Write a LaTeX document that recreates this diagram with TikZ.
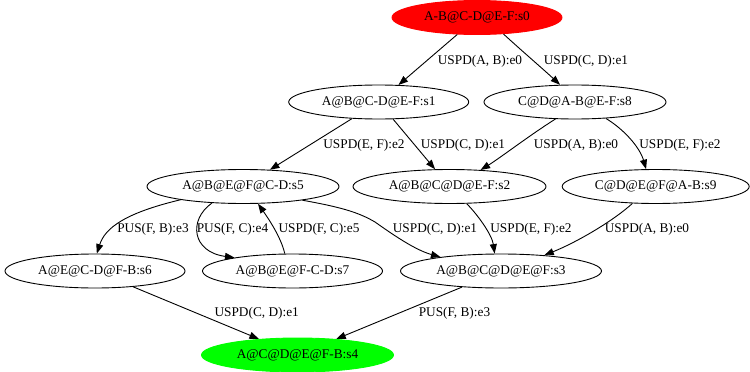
\documentclass[tikz,border=0pt]{standalone}
\usepackage{fontspec}
\setmainfont{Liberation Serif}
\usetikzlibrary{shapes.geometric,arrows.meta}
\begin{document}
\begin{tikzpicture}[x=1pt,y=-1pt,
  state/.style={ellipse,draw=black,line width=0.9pt,inner sep=0pt,
    minimum height=34pt,font=\fontsize{13.3}{15}\selectfont},
  lbl/.style={inner sep=0pt,font=\fontsize{13.3}{15}\selectfont},
  edge/.style={-{Triangle[length=9.5pt,width=7pt]},line width=0.9pt},
]
\useasboundingbox (0,0) rectangle (750,372);

% states
\node[state,minimum width=170pt,fill=red,draw=red] (s0) at (477,17.5) {A-B@C-D@E-F:s0};
\node[state,minimum width=180pt] (s1) at (378.7,102) {A@B@C-D@E-F:s1};
\node[state,minimum width=182pt] (s8) at (575,102) {C@D@A-B@E-F:s8};
\node[state,minimum width=192pt] (s5) at (243,186.5) {A@B@E@F@C-D:s5};
\node[state,minimum width=193pt] (s2) at (449.5,186.5) {A@B@C@D@E-F:s2};
\node[state,minimum width=187pt] (s9) at (655.7,186.5) {C@D@E@F@A-B:s9};
\node[state,minimum width=180pt] (s6) at (95,271) {A@E@C-D@F-B:s6};
\node[state,minimum width=180pt] (s7) at (292.5,271) {A@B@E@F-C-D:s7};
\node[state,minimum width=201pt] (s3) at (501,271) {A@B@C@D@E@F:s3};
\node[state,minimum width=192pt,fill=green,draw=green] (s4) at (297.5,355) {A@C@D@E@F-B:s4};

% transitions
\draw[edge] (s0) -- (s1);
\draw[edge] (s0.-32) .. controls (522,51) and (543,69) .. (s8.131);
\draw[edge] (s1) -- (s5);
\draw[edge] (s1) -- (s2);
\draw[edge] (s8.221) .. controls (530,135) and (500,158) .. (s2.28);
\draw[edge] (s8.-28) .. controls (625,130) and (640,148) .. (s9.119);
\draw[edge] (s5.192) .. controls (125,213) and (105,228) .. (s6.84);
\draw[edge] (s5.208) .. controls (188,220) and (192,252) .. (s7.167);
\draw[edge] (s7.114) .. controls (281,237) and (268,218) .. (s5.-49);
\draw[edge] (s5.-13) .. controls (340,207) and (358,212) .. (375,222)
  .. controls (392,234) and (415,250) .. (s3.167);
\draw[edge] (s2.-45) .. controls (478,215) and (492,235) .. (s3.110);
\draw[edge] (s9.216) .. controls (612,222) and (575,243) .. (s3.20);
\draw[edge] (s6) -- (s4);
\draw[edge] (s3) -- (s4);

% transition labels
\node[lbl] (l01) at (480,61) {USPD(A, B):e0};
\node[lbl] (l08) at (586,61) {USPD(C, D):e1};
\node[lbl] (l15) at (364,145) {USPD(E, F):e2};
\node[lbl] (l12) at (463,145) {USPD(C, D):e1};
\node[lbl] (l82) at (576,145) {USPD(A, B):e0};
\node[lbl] (l89) at (680,145) {USPD(E, F):e2};
\node[lbl] (l56) at (153,229) {PUS(F, B):e3};
\node[lbl] (l57) at (232.5,229) {PUS(F, C):e4};
\node[lbl] (l75) at (319,229) {USPD(F, C):e5};
\node[lbl] (l53) at (435,229) {USPD(C, D):e1};
\node[lbl] (l23) at (531,229) {USPD(E, F):e2};
\node[lbl] (l93) at (647,229) {USPD(A, B):e0};
\node[lbl] (l64) at (256.7,313) {USPD(C, D):e1};
\node[lbl] (l34) at (454.5,313) {PUS(F, B):e3};
\end{tikzpicture}
\end{document}
